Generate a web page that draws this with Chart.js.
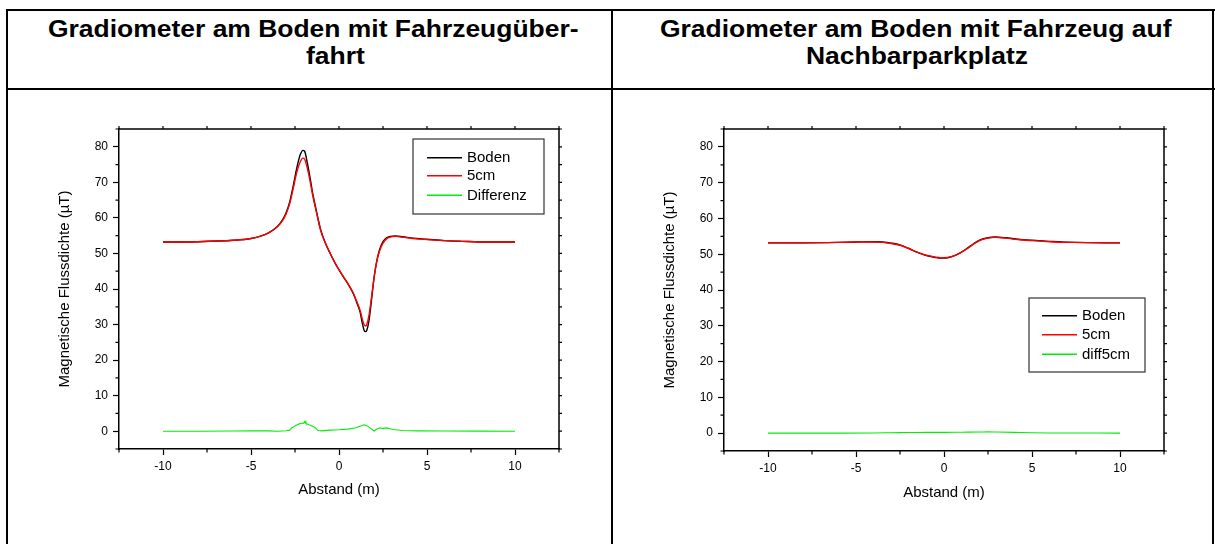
<!DOCTYPE html>
<html>
<head>
<meta charset="utf-8">
<script src="https://cdn.jsdelivr.net/npm/chart.js@4/dist/chart.umd.min.js"></script>
<style>
  html, body { margin: 0; padding: 0; background: #fff; width: 1215px; height: 544px; overflow: hidden; }
  .line { position: absolute; background: #000; }
  .head { position: absolute; font: bold 23px "Liberation Sans", Arial, sans-serif; color: #000; white-space: nowrap; line-height: 27px; transform: translateX(-50%) scaleX(1.15); transform-origin: 0 50%; }
  canvas { position: absolute; }
</style>
</head>
<body>
<!-- table grid -->
<div class="line" style="left:6px;top:9px;width:1209px;height:2px"></div>
<div class="line" style="left:6px;top:88px;width:1209px;height:2px"></div>
<div class="line" style="left:6px;top:9px;width:2px;height:540px"></div>
<div class="line" style="left:611px;top:9px;width:2px;height:540px"></div>
<div class="line" style="left:1212px;top:9px;width:2px;height:540px"></div>

<div class="head" id="h1a" style="left:313px;top:16px">Gradiometer am Boden mit Fahrzeugüber-</div>
<div class="head" id="h1b" style="left:335px;top:43px">fahrt</div>
<div class="head" id="h2a" style="left:916px;top:16px">Gradiometer am Boden mit Fahrzeug auf</div>
<div class="head" id="h2b" style="left:917px;top:43px">Nachbarparkplatz</div>

<canvas id="c1" width="545" height="400" style="left:40px;top:110px;width:545px;height:400px"></canvas>
<canvas id="c2" width="545" height="400" style="left:645px;top:110px;width:545px;height:400px"></canvas>

<script>
// centre each heading line on its x after the horizontal stretch
document.querySelectorAll('.head').forEach(el => {
  const w = el.getBoundingClientRect().width;
  el.style.transform = 'scaleX(1.15)';
  el.style.left = (parseFloat(el.style.left) - w / 2) + 'px';
});

// ---- Fahrzeugüberfahrt (vehicle driving over the sensor) ----
const x1 = [-10, -8, -6, -5, -4.5, -4, -3.5, -3.2, -3, -2.8, -2.6, -2.4, -2.2, -2.05, -1.95, -1.8, -1.65, -1.5, -1.35, -1.2, -1.05, -0.8, -0.5, -0.15, 0.25, 0.5, 0.8, 1.0, 1.2, 1.32, 1.42, 1.5, 1.58, 1.7, 1.85, 2.0, 2.15, 2.3, 2.5, 2.7, 2.9, 3.2, 3.6, 4.2, 5.0, 6, 7, 8.5, 10];
const boden1 = [53.2, 53.3, 53.7, 54.2, 54.8, 55.8, 57.6, 59.5, 61.5, 64.5, 69, 74, 77.8, 79.0, 78.7, 75.5, 71.5, 67, 63.5, 60.0, 56.8, 53.2, 50.0, 46.6, 43.4, 41.5, 38.8, 36.3, 33.5, 30.5, 28.5, 28.0, 28.4, 31, 37, 43.5, 48, 51, 53.3, 54.4, 54.8, 54.9, 54.7, 54.3, 54.0, 53.6, 53.4, 53.2, 53.2];
const cm5_1 = [53.2, 53.3, 53.7, 54.2, 54.8, 55.8, 57.5, 59.3, 61.2, 64, 68.3, 72.8, 75.8, 76.8, 76.5, 74, 70.5, 66.5, 63.0, 59.7, 56.6, 53.2, 50.0, 46.7, 43.5, 41.6, 39, 36.6, 34, 31.6, 30, 29.6, 30, 32.5, 37.8, 43.5, 47.8, 50.6, 52.9, 54.1, 54.6, 54.8, 54.6, 54.2, 53.9, 53.6, 53.4, 53.2, 53.2];
const xd1 = [-10, -8, -6, -5, -4, -3.5, -3, -2.8, -2.7, -2.5, -2.3, -2.1, -2.0, -1.93, -1.88, -1.7, -1.5, -1.35, -1.2, -1.0, -0.5, 0, 0.5, 0.9, 1.2, 1.45, 1.6, 1.8, 2.0, 2.15, 2.3, 2.5, 2.7, 2.9, 3.2, 3.6, 4.5, 6, 8, 10];
const diff1 = [0, 0, 0.05, 0.1, 0.1, 0.0, 0.15, 0.3, 0.9, 1.5, 2.0, 2.3, 2.2, 2.8, 2.2, 1.8, 1.4, 1.0, 0.2, 0.1, 0.3, 0.4, 0.6, 0.9, 1.4, 1.8, 1.5, 0.8, 0.05, 0.6, 0.9, 0.8, 0.95, 0.7, 0.4, 0.2, 0.1, 0.05, 0.02, 0];

// ---- Fahrzeug auf Nachbarparkplatz (vehicle parked next to the sensor) ----
const x2 = [-10, -8, -6, -5, -4, -3.5, -3, -2.5, -2, -1.5, -1.0, -0.5, -0.2, 0.2, 0.6, 0.9, 1.3, 1.7, 2.05, 2.5, 2.9, 3.5, 4.2, 5, 6, 7.4, 10];
const boden2 = [53.2, 53.2, 53.3, 53.4, 53.5, 53.4, 53.1, 52.6, 51.6, 50.5, 49.6, 49.1, 48.9, 49.0, 49.6, 50.3, 51.6, 53.0, 54.0, 54.6, 54.8, 54.6, 54.2, 53.9, 53.6, 53.3, 53.2];
const cm5_2 = [53.2, 53.2, 53.3, 53.4, 53.4, 53.3, 53.0, 52.5, 51.6, 50.5, 49.7, 49.2, 49.0, 49.1, 49.6, 50.3, 51.5, 52.9, 53.9, 54.5, 54.7, 54.5, 54.1, 53.8, 53.5, 53.3, 53.2];
const xd2 = [-10, -6, -4, -3, -2, -1, 0, 1, 2, 2.5, 3, 4, 5, 6, 10];
const diff2 = [0, 0, 0.05, 0.1, 0.15, 0.2, 0.2, 0.25, 0.3, 0.35, 0.3, 0.2, 0.1, 0.05, 0];

// tick layout
const xMin = -12.5, xMax = 12.5, xStep = 2.5, xLabelEvery = 5;
const yMin = -5, yMax = 85, yStep = 5, yLabelEvery = 10;

const FONT = '"Liberation Sans", Arial, sans-serif';
const pts = (xs, ys) => xs.map((x, i) => ({ x, y: ys[i] }));
const isMult = (v, m) => Math.abs(v / m - Math.round(v / m)) < 1e-6;

// frame (top/right axes), minor ticks and inset legend
const framePlugin = {
  id: 'frame',
  afterDraw(chart, args, opts) {
    const { ctx, chartArea: a, scales } = chart;
    const xs = scales.x, ys = scales.y;
    ctx.save();
    ctx.strokeStyle = '#000';
    ctx.lineWidth = 1.5;
    ctx.beginPath();
    ctx.moveTo(a.left, a.top); ctx.lineTo(a.right, a.top); ctx.lineTo(a.right, a.bottom);
    ctx.stroke();
    ctx.lineWidth = 1.2;
    ctx.beginPath();
    xs.ticks.forEach(t => {
      const px = xs.getPixelForValue(t.value);
      ctx.moveTo(px, a.top); ctx.lineTo(px, a.top - 3);
      if (!isMult(t.value, xLabelEvery)) { ctx.moveTo(px, a.bottom); ctx.lineTo(px, a.bottom + 3.5); }
    });
    ys.ticks.forEach(t => {
      const py = ys.getPixelForValue(t.value);
      ctx.moveTo(a.right, py); ctx.lineTo(a.right + 3, py);
      if (!isMult(t.value, yLabelEvery)) { ctx.moveTo(a.left, py); ctx.lineTo(a.left - 3.5, py); }
    });
    ctx.stroke();

    // legend box
    const L = opts.legend;
    const bx = a.left + L.left, by = a.top + L.top;
    ctx.fillStyle = '#fff';
    ctx.fillRect(bx, by, L.width, L.height);
    ctx.strokeStyle = '#333';
    ctx.lineWidth = 1.2;
    ctx.strokeRect(bx, by, L.width, L.height);
    ctx.font = '15px ' + FONT;
    ctx.textBaseline = 'middle';
    ctx.textAlign = 'left';
    chart.data.datasets.forEach((ds, i) => {
      const ry = by + L.rows[i];
      ctx.strokeStyle = ds.borderColor;
      ctx.lineWidth = 1.5;
      ctx.beginPath();
      ctx.moveTo(bx + L.lineFrom, ry); ctx.lineTo(bx + L.lineTo, ry);
      ctx.stroke();
      ctx.fillStyle = '#000';
      ctx.fillText(ds.label, bx + L.textX, ry + 0.5);
    });
    ctx.restore();
  }
};

function makeChart(id, datasets, cfg) {
  return new Chart(document.getElementById(id), {
    type: 'line',
    data: { datasets },
    options: {
      responsive: false,
      animation: false,
      events: [],
      layout: { padding: { left: 0, top: cfg.top, right: 26, bottom: 0 } },
      elements: { point: { radius: 0 }, line: { borderWidth: 1.4, cubicInterpolationMode: 'monotone' } },
      plugins: {
        legend: { display: false },
        tooltip: { enabled: false },
        frame: { legend: cfg.legend }
      },
      scales: {
        x: {
          type: 'linear', min: xMin, max: xMax,
          afterFit: s => { s.height = cfg.xAxisHeight; },
          ticks: {
            stepSize: xStep, autoSkip: false, maxRotation: 0, padding: 4,
            color: '#000', font: { family: FONT, size: 12 },
            callback: v => isMult(v, xLabelEvery) ? String(Math.round(v)) : ''
          },
          grid: {
            drawOnChartArea: false, drawTicks: true, tickLength: 6, tickWidth: 1.2,
            tickColor: c => (c.tick && isMult(c.tick.value, xLabelEvery)) ? '#000' : 'rgba(0,0,0,0)'
          },
          border: { display: true, color: '#000', width: 1.5 },
          title: { display: true, text: 'Abstand (m)', color: '#000', font: { family: FONT, size: 15 }, padding: { top: 0, bottom: cfg.xTitlePad } }
        },
        y: {
          type: 'linear', min: yMin, max: yMax,
          afterFit: s => { s.width = 79; },
          ticks: {
            stepSize: yStep, autoSkip: false, padding: 5,
            color: '#000', font: { family: FONT, size: 12 },
            callback: v => (isMult(v, yLabelEvery) && v >= 0 && v <= 80) ? String(Math.round(v)) : ''
          },
          grid: {
            drawOnChartArea: false, drawTicks: true, tickLength: 6, tickWidth: 1.2,
            tickColor: c => (c.tick && isMult(c.tick.value, yLabelEvery)) ? '#000' : 'rgba(0,0,0,0)'
          },
          border: { display: true, color: '#000', width: 1.5 },
          title: { display: true, text: 'Magnetische Flussdichte (µT)', color: '#000', font: { family: FONT, size: 15 }, padding: { top: 16, bottom: 0 } }
        }
      }
    },
    plugins: [framePlugin]
  });
}

makeChart('c1', [
  { label: 'Boden', data: pts(x1, boden1), borderColor: '#000000', order: 2 },
  { label: '5cm', data: pts(x1, cm5_1), borderColor: '#ff0000', order: 1 },
  { label: 'Differenz', data: pts(xd1, diff1), borderColor: '#00ee00', borderWidth: 1.1, cubicInterpolationMode: 'default', tension: 0, order: 0 }
], {
  top: 19, xAxisHeight: 61, xTitlePad: 11,
  legend: { left: 294, top: 10, width: 131, height: 75, rows: [18.7, 36.7, 56.3], lineFrom: 14, lineTo: 49, textX: 54 }
});

makeChart('c2', [
  { label: 'Boden', data: pts(x2, boden2), borderColor: '#000000', order: 2 },
  { label: '5cm', data: pts(x2, cm5_2), borderColor: '#ff0000', order: 1 },
  { label: 'diff5cm', data: pts(xd2, diff2), borderColor: '#00ee00', borderWidth: 1.1, order: 0 }
], {
  top: 19, xAxisHeight: 59, xTitlePad: 8,
  legend: { left: 305, top: 169, width: 116, height: 74, rows: [17.7, 36.7, 56.3], lineFrom: 13, lineTo: 48, textX: 53 }
});
</script>
</body>
</html>
